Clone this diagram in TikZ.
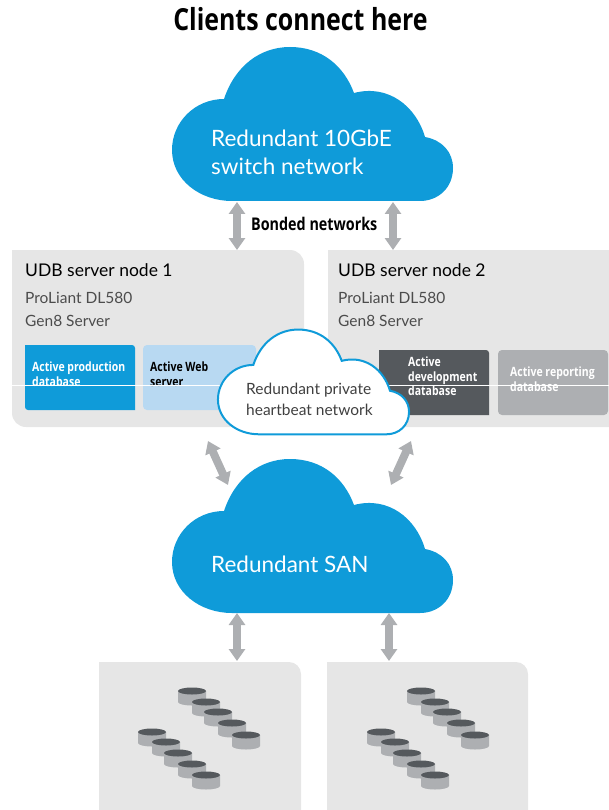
\documentclass[tikz,border=0pt]{standalone}
\usepackage{fontspec}
\setmainfont{Lato}
\newfontfamily\boldcond{Open Sans}[FakeStretch=0.82]
\usetikzlibrary{arrows.meta}

\definecolor{hpblue}{HTML}{0F9BD9}
\definecolor{hplight}{HTML}{B8D9F2}
\definecolor{hpdark}{HTML}{55595D}
\definecolor{hpgrey}{HTML}{ADAFB2}
\definecolor{hppanel}{HTML}{E6E6E6}

\newcommand{\cloudpath}{(232,201) .. controls (200,201) and (172,180) .. (172,150)
    .. controls (172,122) and (195,99) .. (224,99)
    .. controls (235,66) and (260,47) .. (290,47)
    .. controls (322,47) and (344,66) .. (354,93)
    .. controls (388,84) and (416,106) .. (425,137)
    .. controls (442,140) and (453,152) .. (453,168)
    .. controls (453,188) and (438,201) .. (420,201) -- cycle}

\tikzset{
    biarrow/.style={{Triangle[width=16pt,length=12pt]}-{Triangle[width=16pt,length=12pt]},
                    line width=8pt,draw=hpgrey},
    title/.style={anchor=base,inner sep=0pt,font=\boldcond\bfseries\fontsize{30.4}{30.4}\selectfont},
    cloudtext/.style={anchor=base west,inner sep=0pt,text=white,font=\fontsize{22.5}{22.5}\selectfont},
    servertitle/.style={anchor=base west,inner sep=0pt,text=black,font=\fontsize{17.5}{17.5}\selectfont},
    servertext/.style={anchor=base west,inner sep=0pt,text=black!70,font=\fontsize{15.5}{15.5}\selectfont},
    boxtext/.style={anchor=north west,align=left,inner sep=0pt,font=\boldcond\bfseries\fontsize{12.8}{14.5}\selectfont},
    privatetext/.style={anchor=base west,inner sep=0pt,text=black!75,font=\fontsize{15.5}{15.5}\selectfont},
}

\begin{document}
\begin{tikzpicture}[x=1pt,y=-1pt]
\useasboundingbox (0,0) rectangle (609,810);

\node[title] (clients) at (300.5,31) {Clients connect here};

% server nodes
\fill[hppanel] (12,250) [rounded corners=14pt] -- (304,250) -- (304,427) -- (12,427) [sharp corners] -- cycle;
\fill[hppanel] (328,250) -- (609,250) -- (609,427) -- (300,427) -- (300,380) -- (328,380) -- cycle;
\node[servertitle] (title1) at (25,276) {UDB server node 1};
\node[servertitle] (title2) at (338,276) {UDB server node 2};
\node[servertext] (model1) at (25,303) {ProLiant DL580};
\node[servertext] (gen1) at (25,326) {Gen8 Server};
\node[servertext] (model2) at (338,303) {ProLiant DL580};
\node[servertext] (gen2) at (338,326) {Gen8 Server};

% databases
\fill[hpblue] (25,345) [rounded corners=3pt] -- (135,345) [sharp corners] -- (135,410) [rounded corners=3pt] -- (25,410) [sharp corners] -- cycle;
\fill[hplight,rounded corners=4pt] (143,345) rectangle (256,410);
\fill[hpdark] (379,350) [rounded corners=3pt] -- (489,350) [sharp corners] -- (489,415) -- (379,415) -- cycle;
\fill[hpgrey,rounded corners=4pt] (498,350) rectangle (608,415);
\node[boxtext,text=white] (prod) at (32,362) {Active production\\database};
\node[boxtext,text=black] (web) at (150,362) {Active Web\\server};
\node[boxtext,text=white] (dev) at (408,357) {Active\\development\\database};
\node[boxtext,text=white] (report) at (510,367) {Active reporting\\database};
\draw[white,line width=.4pt] (12,385) -- (609,385);

% clouds
\fill[hpblue] \cloudpath;
\fill[hpblue,shift={(0,412)}] \cloudpath;
\filldraw[fill=white,draw=hpblue,line width=2pt,shift={(101,297.6)},scale=.68] \cloudpath;
\node[cloudtext] (switch1) at (211,147) {Redundant 10GbE};
\node[cloudtext] (switch2) at (211,175) {switch network};
\node[cloudtext] (san) at (211,572) {Redundant SAN};
\node[privatetext] (heart1) at (246,394) {Redundant private};
\node[privatetext] (heart2) at (246,415) {heartbeat network};

% storage
\fill[hppanel] (99,662) [rounded corners=12pt] -- (301,662) -- (301,825) -- (99,825) [sharp corners] -- cycle;
\fill[hppanel] (327,662) [rounded corners=12pt] -- (528,662) -- (528,825) -- (327,825) [sharp corners] -- cycle;
\foreach \dx in {0,229}
  \foreach \cx/\cy in {192/691,206/702,218/712,232/723,246/735,152/732,166/742,178/753,192/764,206/775}{
    \fill[hpgrey] (\cx+\dx-14,\cy) -- (\cx+\dx-14,\cy+11) arc[x radius=14,y radius=3.5,start angle=180,end angle=0] -- (\cx+\dx+14,\cy) -- cycle;
    \fill[hpdark] (\cx+\dx,\cy) ellipse[x radius=14,y radius=3.5];
  }

% arrows
\coordinate (top1a) at (237,202);  \coordinate (top1b) at (237,250);
\coordinate (top2a) at (393,202);  \coordinate (top2b) at (393,250);
\coordinate (mid1a) at (208,441);  \coordinate (mid1b) at (228,485);
\coordinate (mid2a) at (411,441);  \coordinate (mid2b) at (391,485);
\coordinate (bot1a) at (237,613);  \coordinate (bot1b) at (237,661);
\coordinate (bot2a) at (389,613);  \coordinate (bot2b) at (389,661);
\foreach \a/\b in {top1a/top1b,top2a/top2b,mid1a/mid1b,mid2a/mid2b,bot1a/bot1b,bot2a/bot2b}
  \draw[biarrow] (\a) -- (\b);

\node[boxtext,anchor=base west,text=black,font=\boldcond\bfseries\fontsize{17.5}{17.5}\selectfont] (bonded) at (251,230) {Bonded networks};
\end{tikzpicture}
\end{document}
